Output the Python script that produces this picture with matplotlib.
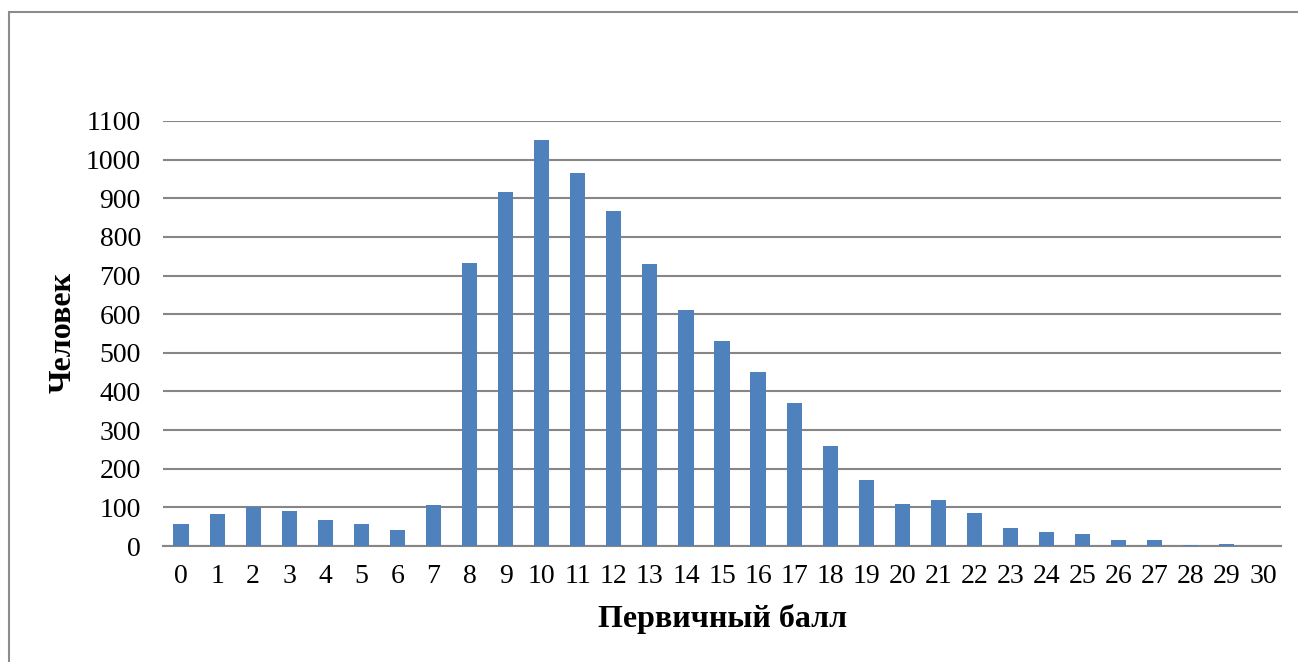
import matplotlib.pyplot as plt
import numpy as np

# Распределение участников по первичному баллу
scores = list(range(0, 31))
people = [57, 83, 100, 90, 68, 57, 42, 107, 732, 916,
          1051, 965, 867, 730, 611, 530, 450, 370, 259, 171,
          109, 119, 85, 47, 37, 30, 16, 15, 3, 4, 0]
y_ticks = list(range(0, 1101, 100))

plt.rcParams['font.family'] = ['Liberation Serif', 'DejaVu Serif']

fig = plt.figure(figsize=(12.98, 6.62), dpi=100)
ax = fig.add_axes([163 / 1298, 1 - 546 / 662, (1281 - 163) / 1298, (546 - 121) / 662])

ax.bar(scores, people, width=0.42, color='#4F81BD', zorder=3)

ax.set_xlim(-0.5, 30.5)
ax.set_ylim(0, 1100)
ax.set_xticks(scores)
ax.set_yticks(y_ticks)
ax.tick_params(length=0, labelsize=20)
ax.tick_params(axis='x', pad=13)
ax.tick_params(axis='y', pad=16)

ax.grid(True, axis='y', color='#868686', linewidth=1.5, zorder=0)
for side in ['top', 'right', 'left']:
    ax.spines[side].set_visible(False)
ax.spines['bottom'].set_color('#868686')
ax.spines['bottom'].set_linewidth(1.5)

ax.set_xlabel('Первичный балл', fontsize=23, fontweight='bold', va='center')
ax.set_ylabel('Человек', fontsize=23, fontweight='bold', va='center')
ax.xaxis.set_label_coords(0.5005, -0.172)
ax.yaxis.set_label_coords(-0.0894, 0.502)

# рамка диаграммы
fig.patches.append(plt.Rectangle((9 / 1298, -0.1), 1.2, 1 - 12 / 662 + 0.1,
                                 transform=fig.transFigure, fill=False,
                                 edgecolor='#8C8C8C', linewidth=1.5))

fig.savefig('out.png', dpi=100)
